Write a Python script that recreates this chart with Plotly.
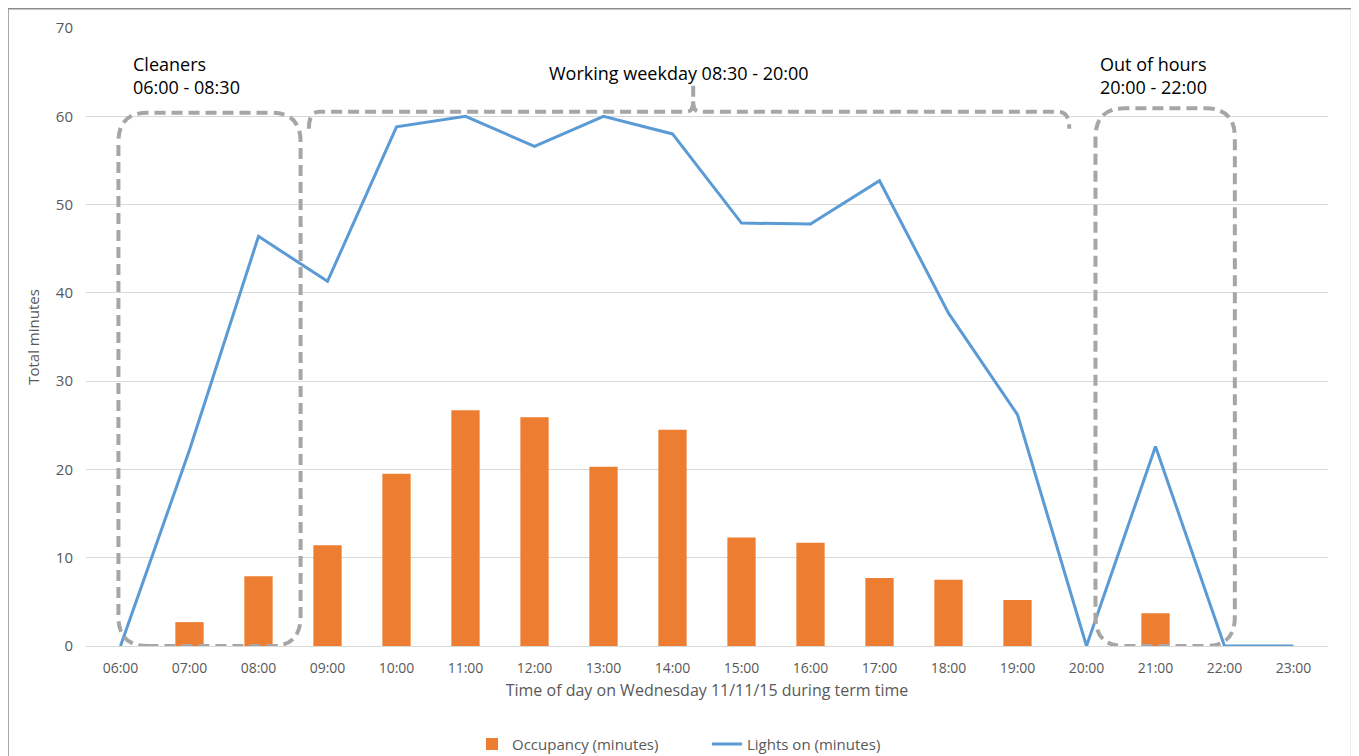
"""
Occupancy vs lights-on minutes per hour, Wednesday 11/11/15
"""

import plotly.graph_objects as go

# Hour slots shown on the x axis
hours = ['06:00', '07:00', '08:00', '09:00', '10:00', '11:00', '12:00', '13:00', '14:00',
         '15:00', '16:00', '17:00', '18:00', '19:00', '20:00', '21:00', '22:00', '23:00']

# Minutes occupied in each hour
occupancy = [0, 2.7, 7.9, 11.4, 19.5, 26.7, 25.9, 20.3, 24.5,
             12.3, 11.7, 7.7, 7.5, 5.2, 0, 3.7, 0, 0]

# Minutes with lights on in each hour
lights_on = [0, 22.2, 46.4, 41.3, 58.8, 60, 56.6, 60, 58,
             47.9, 47.8, 52.7, 37.7, 26.2, 0, 22.6, 0, 0]

ORANGE = '#ED7D31'
BLUE = '#5B9BD5'
DASH_GREY = '#A6A6A6'
FONT = 'Open Sans'

x_idx = list(range(len(hours)))


def rounded_box(x0, x1, y0, y1, rx, ry):
    """SVG path for a rounded rectangle in data coordinates"""
    return (f"M {x0 + rx},{y0} L {x1 - rx},{y0} Q {x1},{y0} {x1},{y0 + ry} "
            f"L {x1},{y1 - ry} Q {x1},{y1} {x1 - rx},{y1} "
            f"L {x0 + rx},{y1} Q {x0},{y1} {x0},{y1 - ry} "
            f"L {x0},{y0 + ry} Q {x0},{y0} {x0 + rx},{y0} Z")


def brace(x0, x1, xm, y, tip, drop):
    """Flat curly-brace style bracket over a span"""
    return (f"M {x0},{y - drop} Q {x0},{y} {x0 + 0.15},{y} "
            f"L {xm - 0.1},{y} Q {xm},{y} {xm},{y + 1.2} L {xm},{tip} "
            f"M {xm},{y + 1.2} Q {xm},{y} {xm + 0.1},{y} "
            f"L {x1 - 0.15},{y} Q {x1},{y} {x1},{y - drop}")


fig = go.Figure()

fig.add_trace(go.Bar(
    x=x_idx,
    y=occupancy,
    width=0.41,
    name='Occupancy (minutes)',
    marker=dict(color=ORANGE, line=dict(width=0)),
))

fig.add_trace(go.Scatter(
    x=x_idx,
    y=lights_on,
    mode='lines',
    name='Lights on (minutes)',
    line=dict(color=BLUE, width=3),
))

dash_line = dict(color=DASH_GREY, width=4, dash='11px,6px')

fig.add_shape(type='path', path=rounded_box(-0.03, 2.61, 0, 60.4, 0.42, 3.3),
              line=dash_line, layer='above')
fig.add_shape(type='path', path=rounded_box(14.13, 16.15, 0, 60.9, 0.42, 3.3),
              line=dash_line, layer='above')
fig.add_shape(type='path', path=brace(2.73, 13.75, 8.3, 60.5, 64.2, 1.9),
              line=dash_line, layer='above')

# Figure border
fig.add_shape(type='rect', xref='paper', yref='paper',
              x0=-0.0628, x1=1.019, y0=-0.4, y1=1.031,
              line=dict(color='#8C8C8C', width=1.5))

text_style = dict(family=FONT, size=18, color='#000000')
fig.add_annotation(x=0.15, y=64.6, text='Cleaners<br>06:00 - 08:30', showarrow=False,
                   xanchor='left', align='left', font=text_style)
fig.add_annotation(x=8.1, y=64.9, text='Working weekday 08:30 - 20:00', showarrow=False,
                   xanchor='center', font=text_style)
fig.add_annotation(x=14.17, y=64.6, text='Out of hours<br>20:00 - 22:00', showarrow=False,
                   xanchor='left', align='left', font=text_style)

fig.update_layout(
    width=1351,
    height=748,
    margin=dict(l=78, r=31, t=20, b=110, autoexpand=False),
    paper_bgcolor='white',
    plot_bgcolor='white',
    font=dict(family=FONT, color='#595959', size=14),
    showlegend=True,
    legend=dict(orientation='h', x=0.5, xanchor='center', y=-0.159, yanchor='middle',
                font=dict(size=15, color='#595959'), traceorder='normal',
                entrywidth=190),
    xaxis=dict(
        range=[-0.5, 17.5],
        tickvals=x_idx,
        ticktext=hours,
        showgrid=False,
        zeroline=False,
        showline=False,
        ticks='',
        ticklabelstandoff=12,
        tickfont=dict(size=14, color='#595959'),
        title=dict(text='Time of day on Wednesday 11/11/15 during term time',
                   font=dict(size=16, color='#595959'), standoff=8),
    ),
    yaxis=dict(
        range=[0, 70],
        dtick=10,
        showgrid=True,
        gridcolor='#D9D9D9',
        gridwidth=1,
        zeroline=True,
        zerolinecolor='#D9D9D9',
        zerolinewidth=1,
        ticks='',
        ticklabelstandoff=12,
        tickfont=dict(size=15, color='#595959'),
        title=dict(text='Total minutes', font=dict(size=15, color='#595959'), standoff=12),
    ),
)

fig.write_html("out.html")
